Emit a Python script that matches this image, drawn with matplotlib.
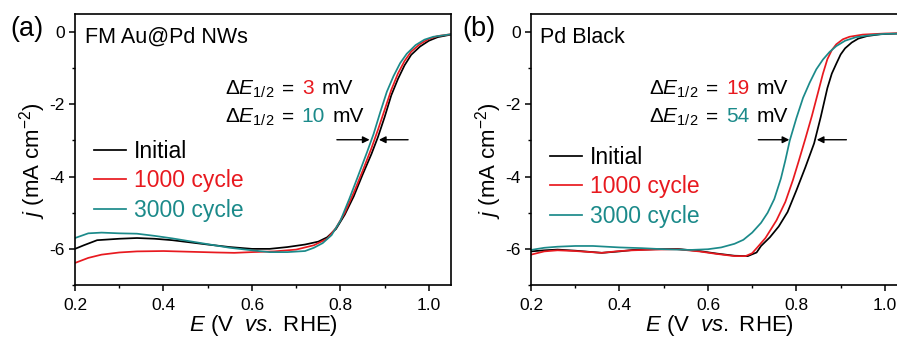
import numpy as np
import matplotlib
matplotlib.use("Agg")
import matplotlib.pyplot as plt
from matplotlib.ticker import MultipleLocator
from matplotlib.offsetbox import TextArea, HPacker, AnnotationBbox

plt.rcParams["font.family"] = ["Liberation Sans", "DejaVu Sans"]
plt.rcParams["mathtext.fontset"] = "custom"
plt.rcParams["mathtext.rm"] = "Liberation Sans"
plt.rcParams["mathtext.it"] = "Liberation Sans:italic"
plt.rcParams["mathtext.bf"] = "Liberation Sans:bold"
plt.rcParams["axes.unicode_minus"] = False

RED = "#e8191f"
TEAL = "#1b8a8a"

# ---- panel (a): FM Au@Pd NWs ----
a_init_x = [0.20, 0.22, 0.25, 0.30, 0.34, 0.38, 0.42, 0.46, 0.50, 0.55, 0.60, 0.64, 0.68,
            0.72, 0.75, 0.77, 0.79, 0.81, 0.83, 0.85, 0.87, 0.885, 0.90, 0.915, 0.93,
            0.945, 0.96, 0.98, 1.00, 1.02, 1.05]
a_init_y = [-6.00, -5.90, -5.76, -5.72, -5.70, -5.72, -5.76, -5.82, -5.88, -5.95, -6.00, -6.00, -5.95,
            -5.88, -5.80, -5.68, -5.45, -5.05, -4.55, -3.95, -3.38, -2.90, -2.35, -1.75, -1.30,
            -0.92, -0.63, -0.40, -0.24, -0.14, -0.07]

a_1000_x = [0.20, 0.23, 0.26, 0.30, 0.34, 0.40, 0.46, 0.52, 0.56, 0.60, 0.65, 0.70, 0.74,
            0.77, 0.79, 0.81, 0.83, 0.85, 0.87, 0.885, 0.90, 0.915, 0.93, 0.945, 0.96,
            0.98, 1.00, 1.02, 1.05]
a_1000_y = [-6.39, -6.25, -6.16, -6.10, -6.07, -6.06, -6.08, -6.10, -6.11, -6.09, -6.07, -6.02, -5.90,
            -5.72, -5.42, -5.00, -4.45, -3.85, -3.22, -2.70, -2.15, -1.60, -1.15, -0.80, -0.54,
            -0.33, -0.19, -0.11, -0.06]

a_3000_x = [0.20, 0.23, 0.26, 0.30, 0.34, 0.38, 0.42, 0.46, 0.50, 0.55, 0.60, 0.64, 0.68,
            0.72, 0.74, 0.76, 0.78, 0.80, 0.82, 0.84, 0.86, 0.875, 0.89, 0.905, 0.92,
            0.935, 0.95, 0.97, 0.99, 1.01, 1.05]
a_3000_y = [-5.70, -5.57, -5.55, -5.57, -5.58, -5.64, -5.71, -5.79, -5.87, -5.97, -6.04, -6.09, -6.09,
            -6.06, -5.97, -5.84, -5.62, -5.22, -4.62, -3.98, -3.33, -2.82, -2.22, -1.65, -1.22,
            -0.86, -0.60, -0.36, -0.21, -0.13, -0.06]

# ---- panel (b): Pd Black ----
b_init_x = [0.20, 0.23, 0.26, 0.30, 0.36, 0.40, 0.43, 0.48, 0.53, 0.58, 0.62, 0.66, 0.69,
            0.71, 0.72, 0.74, 0.76, 0.78, 0.80, 0.82, 0.84, 0.855, 0.87, 0.88, 0.89,
            0.90, 0.91, 0.925, 0.94, 0.96, 0.99, 1.05]
b_init_y = [-6.07, -6.04, -6.02, -6.05, -6.11, -6.07, -6.03, -6.01, -6.00, -6.06, -6.13, -6.19, -6.20,
            -6.10, -5.92, -5.68, -5.38, -4.98, -4.38, -3.75, -3.08, -2.35, -1.55, -1.15, -0.88,
            -0.62, -0.45, -0.29, -0.18, -0.11, -0.06, -0.03]

b_1000_x = [0.20, 0.23, 0.26, 0.30, 0.36, 0.40, 0.43, 0.48, 0.53, 0.58, 0.62, 0.66, 0.685,
            0.70, 0.713, 0.73, 0.755, 0.775, 0.792, 0.805, 0.82, 0.835, 0.85, 0.86, 0.87,
            0.88, 0.89, 0.905, 0.92, 0.95, 1.00, 1.05]
b_1000_y = [-6.16, -6.07, -6.04, -6.06, -6.11, -6.06, -6.04, -6.02, -6.01, -6.07, -6.14, -6.20, -6.20,
            -6.12, -5.94, -5.70, -5.21, -4.70, -4.10, -3.58, -2.96, -2.32, -1.62, -1.15, -0.75,
            -0.50, -0.34, -0.20, -0.13, -0.07, -0.04, -0.03]

b_3000_x = [0.20, 0.23, 0.26, 0.30, 0.34, 0.40, 0.45, 0.50, 0.56, 0.60, 0.63, 0.66, 0.68,
            0.70, 0.72, 0.735, 0.75, 0.765, 0.775, 0.785, 0.80, 0.815, 0.83, 0.845, 0.86,
            0.875, 0.89, 0.91, 0.935, 0.97, 1.00, 1.05]
b_3000_y = [-6.03, -5.97, -5.94, -5.92, -5.92, -5.96, -5.98, -6.01, -6.03, -6.01, -5.96, -5.86, -5.75,
            -5.55, -5.28, -5.00, -4.62, -4.05, -3.55, -3.00, -2.38, -1.82, -1.40, -1.03, -0.76,
            -0.55, -0.39, -0.24, -0.14, -0.08, -0.05, -0.04]

labels = ["Initial", "1000 cycle", "3000 cycle"]
colors = ["black", RED, TEAL]

fig = plt.figure(figsize=(8.97, 3.41), dpi=100)
ax_a = fig.add_axes([75 / 897, 56 / 341, 376 / 897, 271 / 341])
ax_b = fig.add_axes([531 / 897, 56 / 341, 376 / 897, 271 / 341])


def delta_label(ax, x, y, value, color):
    tp = dict(color="black", size=15)
    parts = [
        TextArea(r"$\Delta E_{\mathrm{1/2}}$", textprops=tp),
        TextArea("=", textprops=tp),
        TextArea(value, textprops=dict(color=color, size=15)),
        TextArea("mV", textprops=tp),
    ]
    box = HPacker(children=parts, align="baseline", pad=0, sep=5.5)
    ab = AnnotationBbox(box, (x, y), xycoords="axes fraction",
                        box_alignment=(0, 0.5), frameon=False, pad=0)
    ax.add_artist(ab)


def style_axes(ax):
    ax.set_xlim(0.2, 1.05)
    ax.set_ylim(-7, 0.5)
    ax.xaxis.set_major_locator(MultipleLocator(0.2))
    ax.xaxis.set_minor_locator(MultipleLocator(0.1))
    ax.yaxis.set_major_locator(MultipleLocator(2))
    ax.yaxis.set_minor_locator(MultipleLocator(1))
    ax.tick_params(which="both", direction="out", top=False, right=False, labelsize=12.5)
    ax.tick_params(which="major", length=4, width=1.1)
    ax.tick_params(which="minor", length=2.5, width=1.0)
    ax.tick_params(axis="x", pad=5)
    for s in ax.spines.values():
        s.set_linewidth(1.2)
    ax.set_xlabel(r"$E$ (V  $vs.$ RHE)", fontsize=16, va="center")
    ax.xaxis.set_label_coords(0.5, -0.148)
    ax.set_ylabel(r"$j$ (mA cm$^{-2}$)", fontsize=16, va="center")
    ax.yaxis.set_label_coords(-0.112, 0.46)


def add_legend(ax, y):
    ax.legend(loc="center left", bbox_to_anchor=(0.05, y), frameon=False, fontsize=16.5,
              handlelength=1.4, handletextpad=0.35, labelspacing=0.3, borderpad=0,
              borderaxespad=0, labelcolor="linecolor")


arrow_kw = dict(arrowstyle="-|>", color="black", lw=1.0, mutation_scale=10, shrinkA=0, shrinkB=0)

# panel (a)
for xs, ys, lab, c in zip([a_init_x, a_1000_x, a_3000_x], [a_init_y, a_1000_y, a_3000_y], labels, colors):
    ax_a.plot(xs, ys, color=c, lw=1.25, label=lab)
style_axes(ax_a)
ax_a.text(0.027, 0.894, "FM Au@Pd NWs", transform=ax_a.transAxes, fontsize=15.5, va="baseline")
add_legend(ax_a, 0.384)
delta_label(ax_a, 0.399, 0.723, "3", RED)
delta_label(ax_a, 0.399, 0.62, "10", TEAL)
ax_a.annotate("", xy=(0.866, -2.98), xytext=(0.792, -2.98), arrowprops=arrow_kw)
ax_a.annotate("", xy=(0.887, -2.98), xytext=(0.953, -2.98), arrowprops=arrow_kw)

# panel (b)
for xs, ys, lab, c in zip([b_init_x, b_1000_x, b_3000_x], [b_init_y, b_1000_y, b_3000_y], labels, colors):
    ax_b.plot(xs, ys, color=c, lw=1.25, label=lab)
style_axes(ax_b)
ax_b.text(0.024, 0.894, "Pd Black", transform=ax_b.transAxes, fontsize=15.5, va="baseline")
add_legend(ax_b, 0.362)
delta_label(ax_b, 0.314, 0.723, "19", RED)
delta_label(ax_b, 0.314, 0.62, "54", TEAL)
ax_b.annotate("", xy=(0.784, -2.98), xytext=(0.714, -2.98), arrowprops=arrow_kw)
ax_b.annotate("", xy=(0.846, -2.98), xytext=(0.913, -2.98), arrowprops=arrow_kw)

fig.text(10 / 897, 0.894, "(a)", fontsize=19.5, va="baseline")
fig.text(462 / 897, 0.894, "(b)", fontsize=19.5, va="baseline")

fig.savefig("out.png", dpi=100)
